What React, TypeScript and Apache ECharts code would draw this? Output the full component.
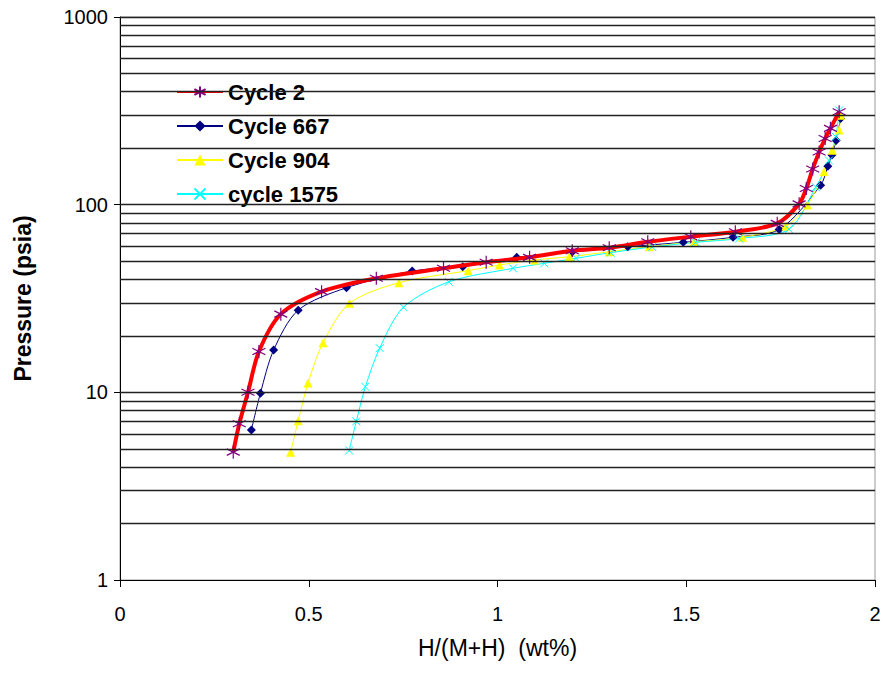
import React, { useEffect, useRef } from "react";
import * as echarts from "echarts";

const seriesNames = ["Cycle 2", "Cycle 667", "Cycle 904", "cycle 1575"];

const cycle2X = [0.300, 0.316, 0.339, 0.368, 0.426, 0.534, 0.679, 0.857, 0.970, 1.085, 1.198, 1.296, 1.398, 1.512, 1.630, 1.741, 1.799, 1.818, 1.835, 1.852, 1.868, 1.882, 1.905];
const cycle2Y = [4.8, 6.8, 10.0, 16.5, 26.1, 34.4, 40.5, 45.8, 49.3, 52.4, 56.8, 58.9, 63.4, 67.5, 71.7, 79.5, 101, 122, 155, 191, 225, 255, 313];

const cycle667X = [0.348, 0.372, 0.407, 0.472, 0.600, 0.774, 0.908, 1.051, 1.198, 1.345, 1.492, 1.624, 1.746, 1.856, 1.875, 1.886, 1.897, 1.909];
const cycle667Y = [6.3, 9.9, 16.8, 27.4, 36.1, 44.3, 46.7, 52.4, 56.0, 59.7, 63.0, 67.0, 73.8, 127, 160, 184, 220, 288];

const cycle904X = [0.452, 0.472, 0.498, 0.538, 0.608, 0.739, 0.922, 1.005, 1.098, 1.190, 1.296, 1.402, 1.521, 1.649, 1.764, 1.821, 1.865, 1.887, 1.905, 1.909];
const cycle904Y = [4.8, 7.06, 11.2, 18.4, 29.8, 38.4, 44.5, 47.7, 50.7, 52.8, 56.1, 59.7, 63.4, 67.0, 76.9, 99.5, 150, 195, 250, 300];

const cycle1575X = [0.607, 0.626, 0.650, 0.688, 0.751, 0.871, 1.041, 1.124, 1.208, 1.300, 1.410, 1.525, 1.640, 1.772, 1.843, 1.878, 1.896, 1.905];
const cycle1575Y = [4.9, 7.0, 10.7, 17.2, 28.4, 38.8, 45.8, 48.7, 51.8, 55.5, 59.5, 63.0, 66.0, 74.0, 124, 172, 230, 318];

const gridLineValues = [2, 3, 4, 5, 6, 7, 8, 9, 10, 20, 30, 40, 50, 60, 70, 80, 90, 100, 200, 300, 400, 500, 600, 700, 800, 900, 1000];

const xTitle = "H/(M+H)  (wt%)";
const yTitle = "Pressure (psia)";

const zip = (xs: number[], ys: number[]) => xs.map((x, i) => [x, ys[i]]);

const FONT = "Liberation Sans, Arial, sans-serif";

export default function App() {
  const ref = useRef<HTMLDivElement>(null);
  useEffect(() => {
    if (!ref.current) return;
    const chart = echarts.init(ref.current, null, { renderer: "svg" });
    const asterisk = "path://M5,0L5,10M0.67,2.5L9.33,7.5M0.67,7.5L9.33,2.5";
    const cross = "path://M0,0L10,10M0,10L10,0";
    chart.setOption({
      animation: false,
      backgroundColor: "#fff",
      grid: {
        left: 120,
        right: 10,
        top: 17,
        bottom: 95,
        show: true,
        borderColor: "#999",
        borderWidth: 1,
      },
      legend: {
        data: seriesNames,
        orient: "vertical",
        left: 166,
        top: 73,
        backgroundColor: "#fff",
        padding: [8, 20, 8, 10],
        itemWidth: 46,
        itemHeight: 14,
        itemGap: 12,
        textStyle: { fontFamily: FONT, fontSize: 22, fontWeight: "bold", color: "#000", lineHeight: 22 },
      },
      xAxis: {
        type: "value",
        min: 0,
        max: 2,
        interval: 0.5,
        name: xTitle,
        nameLocation: "middle",
        nameGap: 56,
        nameTextStyle: { fontFamily: FONT, fontSize: 23, color: "#000" },
        axisLine: { show: true, lineStyle: { color: "#000", width: 1 } },
        axisTick: { show: true, inside: false, length: 7, lineStyle: { color: "#000" } },
        axisLabel: { fontFamily: FONT, fontSize: 20, color: "#000", margin: 24 },
        splitLine: { show: false },
      },
      yAxis: {
        type: "log",
        logBase: 10,
        min: 1,
        max: 1000,
        name: yTitle,
        nameLocation: "middle",
        nameGap: 86,
        nameTextStyle: { fontFamily: FONT, fontSize: 23, fontWeight: "bold", color: "#000" },
        axisLine: { show: true, lineStyle: { color: "#000", width: 1 } },
        axisTick: { show: true, inside: false, length: 6, lineStyle: { color: "#000" } },
        axisLabel: {
          fontFamily: FONT,
          fontSize: 20,
          color: "#000",
          margin: 12,
          formatter: (v: number) => String(Math.round(v)),
        },
        splitLine: { show: false },
        minorTick: { show: false },
      },
      series: [
        {
          name: "grid",
          type: "line",
          data: [],
          z: 1,
          silent: true,
          markLine: {
            silent: true,
            symbol: "none",
            label: { show: false },
            lineStyle: { color: "#222", width: 1.3, type: "solid" },
            data: gridLineValues.map((v) => ({ yAxis: v })),
          },
        },
        {
          name: seriesNames[1],
          type: "line",
          smooth: 0.3,
          data: zip(cycle667X, cycle667Y),
          symbol: "diamond",
          symbolSize: 9,
          lineStyle: { color: "#000080", width: 1 },
          itemStyle: { color: "#000080" },
          z: 3,
        },
        {
          name: seriesNames[2],
          type: "line",
          smooth: 0.3,
          data: zip(cycle904X, cycle904Y),
          symbol: "triangle",
          symbolSize: 9,
          lineStyle: { color: "#ffff00", width: 1 },
          itemStyle: { color: "#ffff00" },
          z: 3,
        },
        {
          name: seriesNames[3],
          type: "line",
          smooth: 0.3,
          data: zip(cycle1575X, cycle1575Y),
          symbol: cross,
          symbolSize: 8,
          lineStyle: { color: "#00ffff", width: 1 },
          itemStyle: { color: "#00ffff", borderColor: "#00ffff", borderWidth: 1 },
          z: 3,
        },
        {
          name: seriesNames[0],
          type: "line",
          smooth: 0.3,
          data: zip(cycle2X, cycle2Y),
          symbol: asterisk,
          symbolSize: 13,
          lineStyle: { color: "#ff0000", width: 4 },
          itemStyle: { color: "#800080", borderColor: "#800080", borderWidth: 1.2 },
          z: 4,
        },
      ],
    });
    return () => chart.dispose();
  }, []);
  return <div ref={ref} style={{ width: 885, height: 675, position: "absolute", left: 0, top: 0 }} />;
}
